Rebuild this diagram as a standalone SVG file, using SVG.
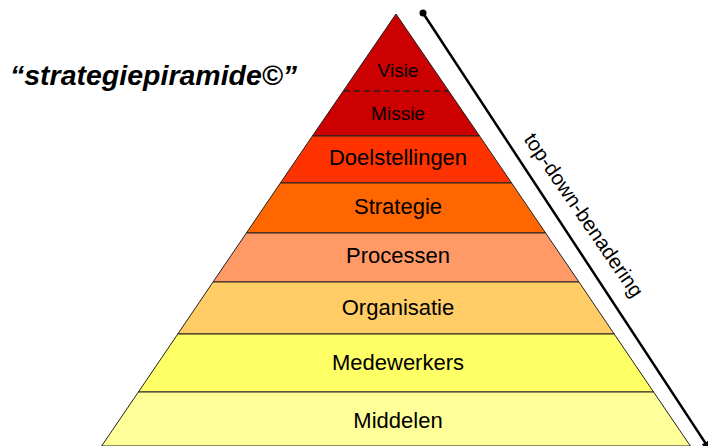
<svg xmlns="http://www.w3.org/2000/svg" width="708" height="446" viewBox="0 0 708 446">
<style>
.band{stroke:#222;stroke-width:1}
.lbl{font-family:"Liberation Sans",Arial,sans-serif;font-size:22px;fill:#000;text-anchor:middle}
.sm{font-size:19px}
</style>
<defs>
<marker id="ah" markerWidth="10" markerHeight="8" refX="9" refY="4" orient="auto" markerUnits="userSpaceOnUse">
<path d="M0,0 L10,4 L0,8 z" fill="#000"/>
</marker>
</defs>
<rect width="708" height="446" fill="#fff"/>
<text x="10" y="85" font-family="Liberation Sans,Arial,sans-serif" font-size="28.5" font-weight="bold" font-style="italic">“strategiepiramide©”</text>
<g id="visie-missie">
<polygon class="band" points="396,14 479.6,136 312.4,136" fill="#CC0000"/>
<line x1="343.7" y1="91" x2="448.3" y2="91" stroke="#222" stroke-width="1.3" stroke-dasharray="6,4"/>
<text class="lbl sm" x="398" y="77">Visie</text>
<text class="lbl sm" x="398" y="120">Missie</text>
</g>
<g id="doelstellingen">
<polygon class="band" points="312.4,136 479.6,136 511.6,183 280.4,183" fill="#FF3300"/>
<text class="lbl" x="398" y="165">Doelstellingen</text>
</g>
<g id="strategie">
<polygon class="band" points="280.4,183 511.6,183 545.6,233 246.4,233" fill="#FF6600"/>
<text class="lbl" x="398" y="214">Strategie</text>
</g>
<g id="processen">
<polygon class="band" points="246.4,233 545.6,233 579,282 213,282" fill="#FF9966"/>
<text class="lbl" x="398" y="263">Processen</text>
</g>
<g id="organisatie">
<polygon class="band" points="213,282 579,282 614.2,334 177.8,334" fill="#FFCC66"/>
<text class="lbl" x="398" y="315">Organisatie</text>
</g>
<g id="medewerkers">
<polygon class="band" points="177.8,334 614.2,334 653.6,392 138.4,392" fill="#FFFF66"/>
<text class="lbl" x="398" y="370">Medewerkers</text>
</g>
<g id="middelen">
<polygon class="band" points="138.4,392 653.6,392 690.4,446 101.6,446" fill="#FFFF99"/>
<text class="lbl" x="398" y="428">Middelen</text>
</g>
<g id="connectors">
<circle cx="423" cy="13" r="3.5" fill="#000"/>
<line x1="423" y1="13" x2="710" y2="450" stroke="#000" stroke-width="2.5" marker-end="url(#ah)"/>
<text class="lbl" transform="translate(578,219) rotate(55.5)" style="font-size:20.5px">top-down-benadering</text>
</g>
</svg>
